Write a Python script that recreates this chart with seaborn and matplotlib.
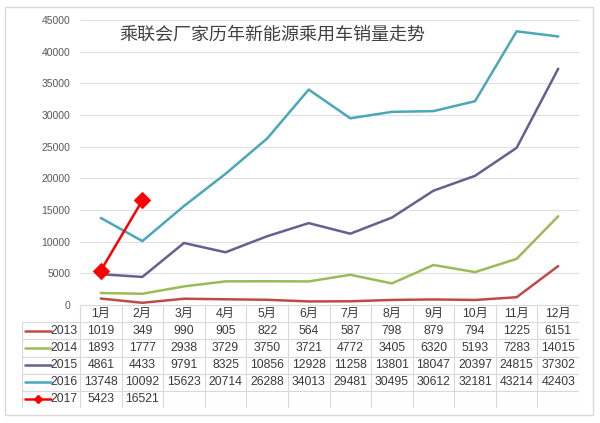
import numpy as np
import pandas as pd
import seaborn as sns
import matplotlib.pyplot as plt
from matplotlib.patches import Rectangle
from matplotlib.lines import Line2D

months = ['1月', '2月', '3月', '4月', '5月', '6月', '7月', '8月', '9月', '10月', '11月', '12月']
years = ['2013', '2014', '2015', '2016', '2017']
sales_2013 = [1019, 349, 990, 905, 822, 564, 587, 798, 879, 794, 1225, 6151]
sales_2014 = [1893, 1777, 2938, 3729, 3750, 3721, 4772, 3405, 6320, 5193, 7283, 14015]
sales_2015 = [4861, 4433, 9791, 8325, 10856, 12928, 11258, 13801, 18047, 20397, 24815, 37302]
sales_2016 = [13748, 10092, 15623, 20714, 26288, 34013, 29481, 30495, 30612, 32181, 43214, 42403]
sales_2017 = [5423, 16521]
y_ticks = [0, 5000, 10000, 15000, 20000, 25000, 30000, 35000, 40000, 45000]
title = '乘联会厂家历年新能源乘用车销量走势'

series = {'2013': sales_2013, '2014': sales_2014, '2015': sales_2015,
          '2016': sales_2016, '2017': sales_2017}
colors = {'2013': '#be4b48', '2014': '#9bbb59', '2015': '#64618f',
          '2016': '#4aa8b8', '2017': '#ff0000'}

rows = []
for yr, vals in series.items():
    for i, v in enumerate(vals):
        rows.append({'year': yr, 'idx': i, 'month': months[i], 'sales': v})
df = pd.DataFrame(rows)

sns.set_style('white')
plt.rcParams['font.family'] = ['Liberation Sans', 'Noto Sans CJK SC', 'DejaVu Sans']

W, H = 600, 423
fig = plt.figure(figsize=(W / 100, H / 100), dpi=100)
fig.patch.set_facecolor('white')

def fx(px):
    return px / W

def fy(px):
    return 1 - px / H

# main plot area
left, right, top, bottom = 80, 579, 20, 305
ax = fig.add_axes([fx(left), fy(bottom), fx(right - left), fy(top) - fy(bottom)])
for yr in years:
    sub = df[df['year'] == yr]
    if yr == '2017':
        sns.lineplot(data=sub, x='idx', y='sales', ax=ax, color=colors[yr], lw=1.8,
                     marker='D', markersize=8, markeredgecolor=colors[yr])
    else:
        sns.lineplot(data=sub, x='idx', y='sales', ax=ax, color=colors[yr], lw=1.8)
ax.set_xlim(-0.5, len(months) - 0.5)
ax.set_ylim(0, 45000)
ax.set_yticks(y_ticks)
ax.set_yticklabels([str(t) for t in y_ticks], fontsize=7.5, color='#595959')
ax.set_xticks([])
ax.set_xlabel('')
ax.set_ylabel('')
ax.tick_params(axis='y', length=0, pad=7)
ax.grid(axis='y', color='#e0e0e0', lw=0.8)
ax.set_axisbelow(True)
for s in ax.spines.values():
    s.set_visible(False)

fig.text(fx(272), fy(35), title, ha='center', va='center', fontsize=13,
         color='#404040', family=['Noto Sans CJK SC', 'DejaVu Sans'])

# data table below the plot
tbl_left, tbl_bottom = 22, 408
col_w = (right - left) / len(months)
lab_cols = (left - tbl_left) / col_w
n_rows = len(years) + 1
ax_t = fig.add_axes([fx(tbl_left), fy(tbl_bottom), fx(right - tbl_left), fy(bottom) - fy(tbl_bottom)])
ax_t.set_xlim(-0.5 - lab_cols, len(months) - 0.5)
ax_t.set_ylim(n_rows, 0)
ax_t.axis('off')
grid_c = '#d9d9d9'
ax_t.hlines(0, -0.5, len(months) - 0.5, color=grid_c, lw=0.8)
for r in range(1, n_rows + 1):
    ax_t.hlines(r, -0.5 - lab_cols, len(months) - 0.5, color=grid_c, lw=0.8)
ax_t.vlines(-0.5 - lab_cols, 1, n_rows, color=grid_c, lw=0.8)
for c in range(len(months) + 1):
    ax_t.vlines(c - 0.5, 0, n_rows, color=grid_c, lw=0.8)

txt_c = '#3a3a3a'
fs = 8.8
for c, m in enumerate(months):
    ax_t.text(c, 0.5, m, ha='center', va='center', fontsize=fs, color=txt_c)
x0 = -0.5 - lab_cols
k0, k1 = x0 + 3 / col_w, x0 + 29 / col_w
for r, yr in enumerate(years, start=1):
    key = Line2D([k0, k1], [r + 0.5, r + 0.5], color=colors[yr], lw=1.8)
    ax_t.add_line(key)
    if yr == '2017':
        ax_t.plot([(k0 + k1) / 2], [r + 0.5], marker='D', color=colors[yr], markersize=4.5)
    ax_t.text(-0.56, r + 0.5, yr, ha='right', va='center', fontsize=fs, color=txt_c)
    for c, v in enumerate(series[yr]):
        ax_t.text(c, r + 0.5, str(v), ha='center', va='center', fontsize=fs, color=txt_c)

# chart frame
fig.patches.append(Rectangle((fx(5), fy(415)), fx(588), fy(7) - fy(415),
                             transform=fig.transFigure, fill=False,
                             edgecolor='#d9d9d9', lw=1.0))

fig.savefig('out.png', dpi=100)
